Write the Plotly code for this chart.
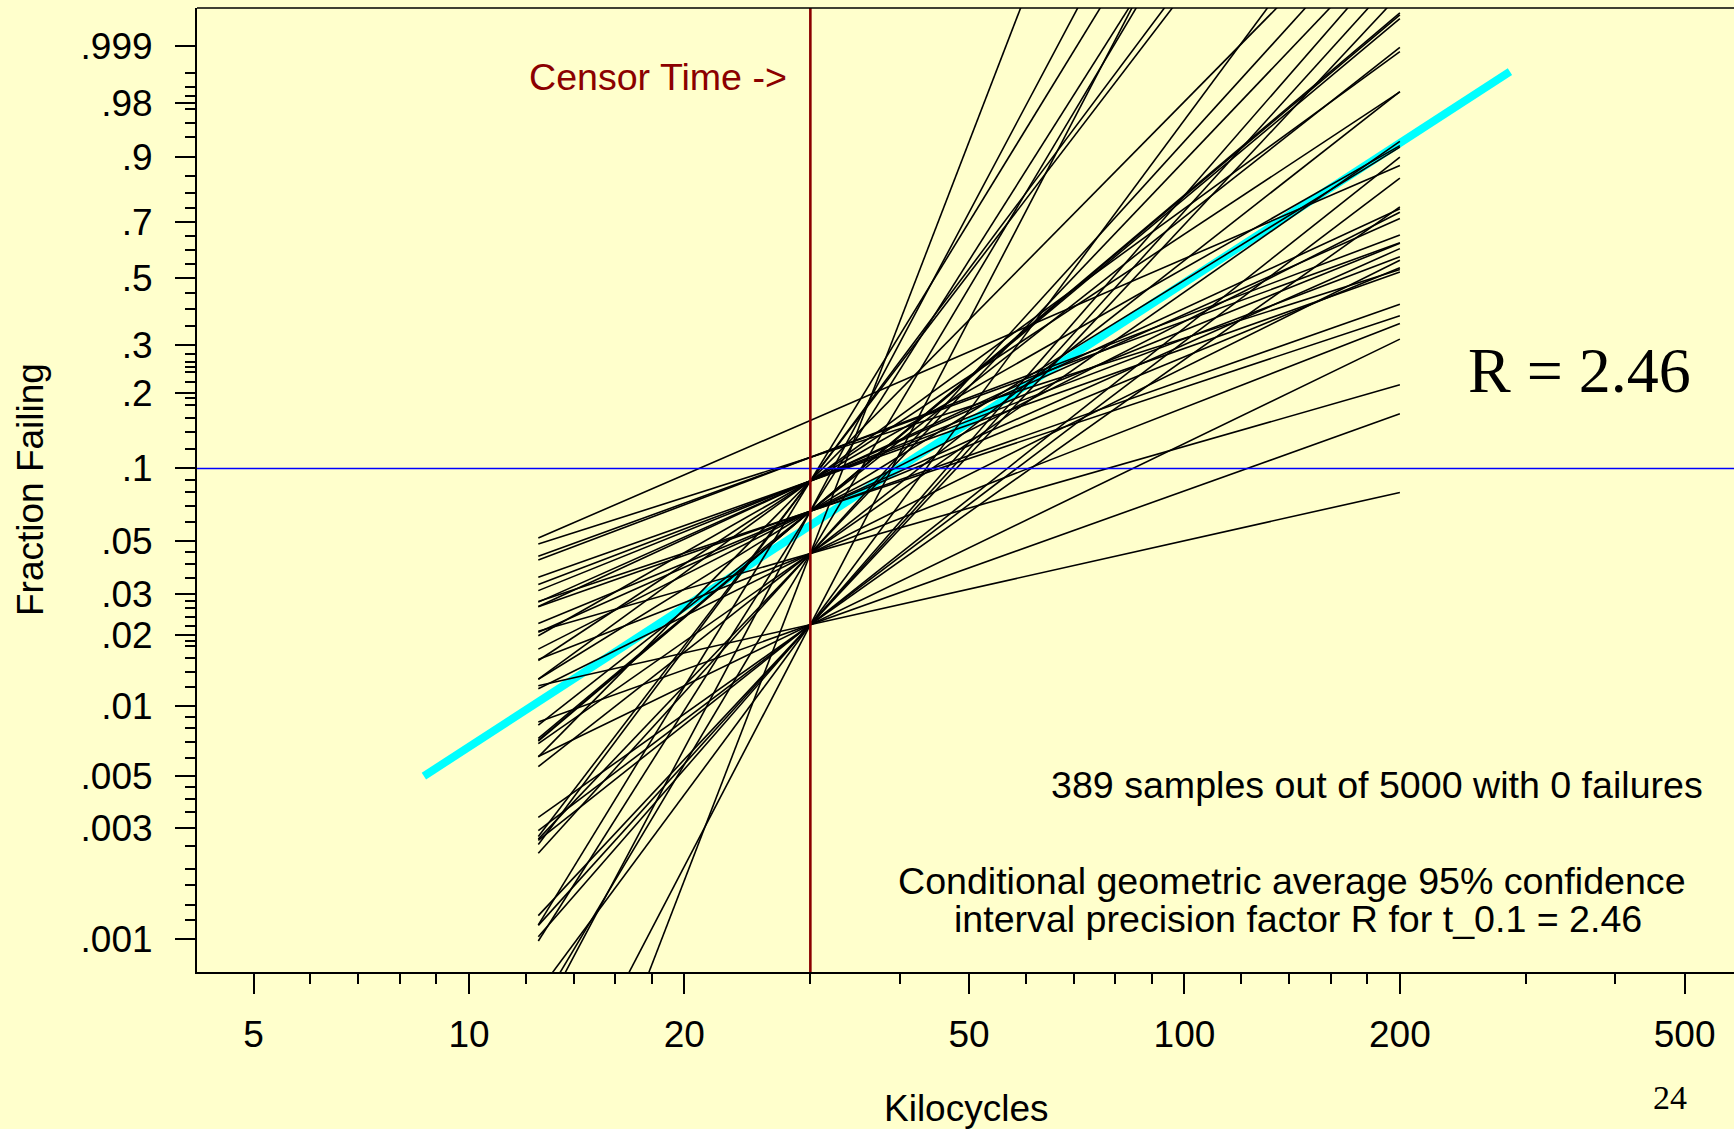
import numpy as np
import plotly.graph_objects as go

# ---------------- data ----------------
censor_kc = 30.0
prob_line = 0.1
line_t_start = 12.5
line_t_end = 200.0

# each simulated ML line: fraction failing at the censor time (pivot) and slope (Weibull shape)
line_frac_at_censor = (
    [0.0222] * 11 + [0.0444] * 9 + [0.0667] * 12 + [0.0889] * 12 + [0.111] * 3 + [0.156] * 1
)
line_shape = [
    0.69, 1.10, 1.49, 2.18, 2.33, 2.44, 5.90, 4.15, 3.53, 3.29, 3.40,
    0.88, 1.20, 1.53, 2.41, 7.98, 5.15, 3.39, 3.23, 2.15,
    2.60, 2.59, 2.42, 5.79, 1.02, 1.08, 1.27, 1.37, 1.56, 1.90, 2.57, 4.86,
    2.24, 2.03, 1.75, 1.42, 1.37, 1.24, 1.17, 1.09, 3.12, 4.02, 4.11, 5.02,
    1.16, 1.12, 0.98,
    1.33,
]

true_t = [8.65, 285.0]
true_frac = [0.005, 0.9953]

y_tick_frac = [0.999, 0.98, 0.9, 0.7, 0.5, 0.3, 0.2, 0.1, 0.05, 0.03, 0.02, 0.01, 0.005, 0.003, 0.001]
y_tick_text = [".999", ".98", ".9", ".7", ".5", ".3", ".2", ".1", ".05", ".03", ".02", ".01", ".005", ".003", ".001"]
y_minor_frac = [0.995, 0.99, 0.985, 0.975, 0.96, 0.94, 0.85, 0.8, 0.75, 0.65, 0.6, 0.55,
                0.45, 0.4, 0.35, 0.28, 0.26, 0.25, 0.24, 0.22, 0.19, 0.18, 0.16, 0.14, 0.12,
                0.09, 0.08, 0.07, 0.06, 0.045, 0.04, 0.035, 0.028, 0.026, 0.024, 0.022,
                0.019, 0.018, 0.016, 0.014, 0.012, 0.009, 0.008, 0.007, 0.006,
                0.0045, 0.004, 0.0035, 0.0025, 0.002, 0.0017, 0.0014, 0.0012]
x_tick_vals = [5, 10, 20, 50, 100, 200, 500]
x_tick_text = ["5", "10", "20", "50", "100", "200", "500"]
x_minor_vals = [6, 7, 8, 9, 12, 14, 16, 18, 30, 40, 60, 70, 80, 90, 120, 140, 160, 180, 300, 400]


def wb(p):
    p = np.asarray(p, dtype=float)
    return np.log(-np.log(1.0 - p))


# ---------------- layout geometry ----------------
W, H = 1734, 1129
ML, MR, MT, MB = 197, 0, 8, 157
PW, PH = W - ML - MR, H - MT - MB

x_range = [0.6199, 2.768]
y_range = [-7.235, 2.308]

BG = "#FFFFCC"
FONT = "Liberation Sans, Arial, Helvetica, sans-serif"
SERIF = "Liberation Serif, Times New Roman, serif"
FS = 37
FSA = 37.6


def px_to_paper(X, Y):
    return (X - ML) / PW, (H - MB - Y) / PH


fig = go.Figure()

# true (cyan) line
fig.add_trace(go.Scatter(
    x=true_t, y=wb(true_frac), mode="lines",
    line=dict(color="#00FFFF", width=8), hoverinfo="skip", showlegend=False))

# simulated ML lines
xs, ys = [], []
for f, b in zip(line_frac_at_censor, line_shape):
    yp = float(wb(f))
    for t in (line_t_start, line_t_end):
        xs.append(t)
        ys.append(yp + b * np.log(t / censor_kc))
    xs.append(None)
    ys.append(None)
fig.add_trace(go.Scatter(
    x=xs, y=ys, mode="lines", line=dict(color="black", width=1.6),
    hoverinfo="skip", showlegend=False))

# horizontal line at F = 0.1
fig.add_trace(go.Scatter(
    x=[10 ** x_range[0], 10 ** x_range[1]], y=[float(wb(prob_line))] * 2, mode="lines",
    line=dict(color="#0000FF", width=1.6), hoverinfo="skip", showlegend=False))

# censor time
fig.add_trace(go.Scatter(
    x=[censor_kc, censor_kc], y=y_range, mode="lines",
    line=dict(color="#8B0000", width=2.6), hoverinfo="skip", showlegend=False))

annotations = []


def add_text(text, X, Y, size=FSA, color="black", family=FONT, angle=0):
    xp, yp = px_to_paper(X, Y)
    annotations.append(dict(
        text=text, x=xp, y=yp, xref="paper", yref="paper", showarrow=False,
        xanchor="center", yanchor="middle", textangle=angle,
        font=dict(size=size, color=color, family=family)))


add_text("Fraction Failing", 30, 490, size=FS, angle=-90)
add_text("Kilocycles", 966, 1108, size=FS)
add_text("Censor Time ->", 658, 77, color="#8B0000")
add_text("R = 2.46", 1579, 370, size=64, family=SERIF)
add_text("389 samples out of 5000 with 0 failures", 1377, 785)
add_text("Conditional geometric average 95% confidence", 1292, 881)
add_text("interval precision factor R for t_0.1 = 2.46", 1298, 919)
add_text("24", 1670, 1097, size=34, family=SERIF)

fig.update_layout(
    width=W, height=H,
    margin=dict(l=ML, r=MR, t=MT, b=MB, pad=0),
    paper_bgcolor=BG, plot_bgcolor=BG,
    font=dict(family=FONT, size=FS, color="black"),
    annotations=annotations,
    shapes=[dict(type="line", xref="paper", yref="paper", x0=0, x1=1, y0=1, y1=1,
                 line=dict(color="black", width=1.5))],
    xaxis=dict(
        type="log", range=x_range, showgrid=False, zeroline=False,
        tickmode="array", tickvals=x_tick_vals, ticktext=x_tick_text,
        ticks="outside", ticklen=20, tickwidth=2, tickcolor="black",
        showline=True, linewidth=2, linecolor="black",
        tickfont=dict(size=FS, family=FONT, color="black"),
        ticklabelstandoff=9,
        minor=dict(tickmode="array", tickvals=x_minor_vals, ticks="outside",
                   ticklen=10, tickwidth=2, tickcolor="black", showgrid=False),
    ),
    yaxis=dict(
        range=y_range, showgrid=False, zeroline=False,
        tickmode="array", tickvals=list(wb(y_tick_frac)), ticktext=y_tick_text,
        ticks="outside", ticklen=20, tickwidth=2, tickcolor="black",
        showline=True, linewidth=2, linecolor="black",
        tickfont=dict(size=FS, family=FONT, color="black"),
        ticklabelstandoff=15,
        minor=dict(tickmode="array", tickvals=list(wb(y_minor_frac)), ticks="outside",
                   ticklen=10, tickwidth=2, tickcolor="black", showgrid=False),
    ),
)

fig.write_html(
    "out.html",
    config={"displayModeBar": False, "staticPlot": True},
    post_script=(
        "document.body.style.margin='0';"
        "document.body.style.padding='0';"
        "document.body.style.overflow='hidden';"
        "document.body.style.background='#FFFFCC';"
    ),
)
